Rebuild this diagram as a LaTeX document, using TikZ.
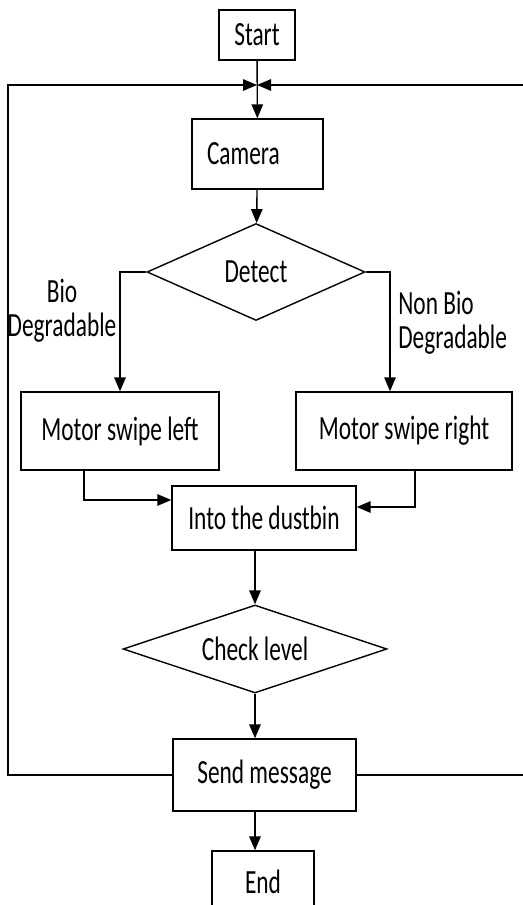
\documentclass[tikz,border=0pt]{standalone}
\usepackage{fontspec}
\setmainfont{Carlito}
\usepackage{graphicx}
\usetikzlibrary{shapes.geometric, arrows.meta}
\newcommand{\tallText}[1]{\scalebox{1}[1.45]{#1}}

\begin{document}
\begin{tikzpicture}[
    x=0.02cm, y=-0.02cm,
    box/.style={rectangle, draw, line width=0.8pt, inner sep=0pt, font=\fontsize{13.3}{13}\selectfont},
    decision/.style={diamond, draw, line width=0.8pt, inner sep=0pt, shape aspect=2.5, font=\fontsize{13.3}{13}\selectfont},
    tag/.style={inner sep=0pt, font=\fontsize{13.3}{13}\selectfont},
    arrow/.style={-{Triangle[length=2.8mm, width=2.3mm]}, line width=0.8pt}
]
    \useasboundingbox (0,0) rectangle (522,905);

    % Main column
    \node[box, minimum width=1.52cm, minimum height=1cm] (start) at (257,35) {\tallText{Start}};
    \node[box, minimum height=1.4cm, text width=2.02cm, inner xsep=0.3cm, align=left] (camera) at (257.5,154) {\tallText{Camera}};
    \node[decision, minimum width=4.36cm, minimum height=1.94cm] (detect) at (256,272) {\tallText{Detect}};

    % Branches
    \node[box, minimum width=3.96cm, minimum height=1.56cm] (swipe_left) at (120,431) {\tallText{Motor swipe left}};
    \node[box, minimum width=4.32cm, minimum height=1.56cm] (swipe_right) at (404,431) {\tallText{Motor swipe right}};
    \node[tag, align=center] (bio) at (62,313) {\tallText{\begin{tabular}{@{}c@{}}Bio\\Degradable\end{tabular}}};
    \node[tag, anchor=west] (non_bio) at (398,325) {\tallText{\begin{tabular}{@{}l@{}}Non Bio\\Degradable\end{tabular}}};

    % Lower column
    \node[box, minimum width=3.68cm, minimum height=1.28cm] (dustbin) at (264,518) {\tallText{Into the dustbin}};
    \node[decision, minimum width=5.28cm, minimum height=1.76cm] (check) at (255,649) {\tallText{Check level}};
    \node[box, minimum width=3.66cm, minimum height=1.44cm] (send) at (264.5,775) {\tallText{Send message}};
    \node[box, minimum width=2.04cm, minimum height=1.24cm] (end) at (263,882) {\tallText{End}};

    % Connections
    \draw[arrow] (start) -- (camera);
    \draw[arrow] (camera) -- (detect);
    \draw[arrow] (detect.west) -| (swipe_left.north);
    \draw[arrow] (detect.east) -| ([xshift=-0.28cm]swipe_right.north);
    \draw[arrow] ([xshift=-0.72cm]swipe_left.south) |- ([yshift=0.36cm]dustbin.west);
    \draw[arrow] ([xshift=0.22cm]swipe_right.south) |- ([yshift=0.22cm]dustbin.east);
    \draw[arrow] (dustbin.south -| check.north) -- (check.north);
    \draw[arrow] (check.south) -- (check.south |- send.north);
    \draw[arrow] (check.south |- send.south) -- (check.south |- end.north);

    % Loop back
    \coordinate (merge) at (257,85);
    \coordinate (loop_left) at (8,85);
    \coordinate (loop_right) at (535,85);
    \draw[arrow] (send.west) -| (loop_left) -- (merge);
    \draw[arrow] (send.east) -| (loop_right) -- (merge);

\end{tikzpicture}
\end{document}
